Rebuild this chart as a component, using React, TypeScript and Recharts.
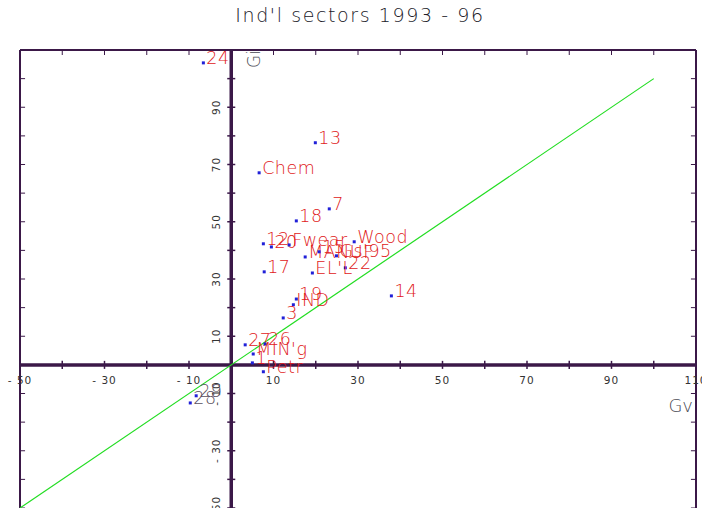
import { ReferenceDot, ReferenceLine, Scatter, ScatterChart, XAxis, YAxis } from "recharts";

// sector growth: Gv (x) against Gi (y), 1993-96
const sectorNames = [
  "24", "13", "Chem", "7", "18", "12", "20", "Fwear", "Wood", "MANUF", "15", "Gs'95", "22",
  "EL'L", "17", "14", "19", "IND", "3", "27", "26", "MIN'g", "1", "Petr", "29", "28",
];
const gvValues = [
  -6.6, 19.9, 6.6, 23.2, 15.4, 7.6, 9.5, 13.7, 29.1, 17.5, 20.8, 24.9, 27.0,
  19.2, 7.8, 37.9, 15.4, 14.7, 12.3, 3.3, 8.0, 5.2, 5.0, 7.6, -8.3, -9.7,
];
const giValues = [
  105.5, 77.6, 67.1, 54.5, 50.3, 42.3, 41.2, 41.9, 43.0, 37.7, 39.5, 38.1, 33.9,
  32.1, 32.5, 24.1, 23.0, 21.0, 16.4, 7.0, 7.3, 3.8, 0.7, -2.4, -10.8, -13.3,
];
const greySectors = ["28", "29"];

const axisMin = -50;
const axisMax = 110;
const tickSteps = [-50, -40, -30, -20, -10, 0, 10, 20, 30, 40, 50, 60, 70, 80, 90, 100, 110];
const xTickLabels = [-50, -30, -10, 10, 30, 50, 70, 90, 110];
const yTickLabels = [-50, -30, -10, 10, 30, 50, 70, 90];
const diagonal = [-50, 100];

const points = sectorNames.map((name, i) => ({ name, gv: gvValues[i], gi: giValues[i] }));

const AXIS = "#3b1848";
const FONT = "'DejaVu Sans', sans-serif";

function SectorMark(props: any) {
  const { cx, cy, payload } = props;
  if (cx == null || cy == null) return null;
  const grey = greySectors.includes(payload.name);
  return (
    <g>
      <rect x={cx - 1.5} y={cy - 1.5} width={3} height={3} fill="#2020d8" />
      <text
        x={cx + 3}
        y={cy + 1}
        fontFamily={FONT}
        fontWeight={200}
        fontSize={17.5}
        letterSpacing={0.5}
        fill={grey ? "#5a5060" : "#e01818"}
      >
        {payload.name}
      </text>
    </g>
  );
}

export default function App() {
  return (
    <div style={{ position: "absolute", left: 0, top: 0, width: 702, height: 508, background: "#fff" }}>
      <svg width={702} height={30} style={{ position: "absolute", left: 0, top: 0 }}>
        <text
          x={360}
          y={22}
          textAnchor="middle"
          fontFamily={FONT}
          fontWeight={200}
          fontSize={19}
          fill="#202028"
          letterSpacing={1.6}
        >
          Ind'l sectors 1993 - 96
        </text>
      </svg>
      <ScatterChart width={702} height={508} margin={{ top: 50, right: 6, bottom: 0, left: 20 }}>
        <XAxis type="number" dataKey="gv" domain={[axisMin, axisMax]} allowDataOverflow hide />
        <YAxis type="number" dataKey="gi" domain={[axisMin, axisMax]} allowDataOverflow hide />

        {/* frame */}
        <ReferenceLine y={axisMax} stroke={AXIS} strokeWidth={2} ifOverflow="visible" />
        <ReferenceLine x={axisMin} stroke={AXIS} strokeWidth={2} ifOverflow="visible" />
        <ReferenceLine x={axisMax} stroke={AXIS} strokeWidth={2} ifOverflow="visible" />
        {tickSteps.map((t) => (
          <ReferenceLine
            key={`ft${t}`}
            segment={[{ x: t, y: axisMax }, { x: t, y: axisMax - 1.75 }]}
            stroke={AXIS}
            strokeWidth={1}
            ifOverflow="visible"
          />
        ))}
        {tickSteps.map((t) => (
          <ReferenceLine
            key={`fl${t}`}
            segment={[{ x: axisMin, y: t }, { x: axisMin + 1.2, y: t }]}
            stroke={AXIS}
            strokeWidth={1}
            ifOverflow="visible"
          />
        ))}
        {tickSteps.map((t) => (
          <ReferenceLine
            key={`fr${t}`}
            segment={[{ x: axisMax, y: t }, { x: axisMax - 1.2, y: t }]}
            stroke={AXIS}
            strokeWidth={1}
            ifOverflow="visible"
          />
        ))}

        {/* axes through the origin */}
        <ReferenceLine y={0} stroke={AXIS} strokeWidth={3.5} ifOverflow="visible" />
        <ReferenceLine x={0} stroke={AXIS} strokeWidth={3.5} ifOverflow="visible" />
        {tickSteps.map((t) => (
          <ReferenceLine
            key={`xt${t}`}
            segment={[{ x: t, y: -1.4 }, { x: t, y: 1.4 }]}
            stroke={AXIS}
            strokeWidth={1.5}
            ifOverflow="visible"
          />
        ))}
        {tickSteps.map((t) => (
          <ReferenceLine
            key={`yt${t}`}
            segment={[{ x: -0.95, y: t }, { x: 0.95, y: t }]}
            stroke={AXIS}
            strokeWidth={1.5}
            ifOverflow="visible"
          />
        ))}
        {xTickLabels.map((t) => (
          <ReferenceDot
            key={`xl${t}`}
            x={t}
            y={0}
            r={1}
            ifOverflow="visible"
            shape={(p: any) => (
              <text x={p.cx} y={p.cy + 19} textAnchor="middle" fontFamily={FONT} fontSize={10.5} fill="#333" letterSpacing={1}>
                {t < 0 ? `- ${Math.abs(t)}` : t}
              </text>
            )}
          />
        ))}
        {yTickLabels.map((t) => (
          <ReferenceDot
            key={`yl${t}`}
            x={0}
            y={t}
            r={1}
            ifOverflow="visible"
            shape={(p: any) => (
              <text
                x={p.cx - 11}
                y={p.cy}
                textAnchor="middle"
                fontFamily={FONT}
                fontSize={10.5}
                fill="#333"
                letterSpacing={1}
                transform={`rotate(-90, ${p.cx - 11}, ${p.cy})`}
              >
                {t < 0 ? `- ${Math.abs(t)}` : t}
              </text>
            )}
          />
        ))}

        {/* axis titles */}
        <ReferenceDot
          x={axisMax}
          y={0}
          r={1}
          ifOverflow="visible"
          shape={(p: any) => (
            <text x={p.cx - 3} y={p.cy + 47} textAnchor="end" fontFamily={FONT} fontWeight={200} fontSize={18} fill="#4a4a54">
              Gv
            </text>
          )}
        />
        <ReferenceDot
          x={0}
          y={axisMax}
          r={1}
          ifOverflow="visible"
          shape={(p: any) => (
            <text
              x={p.cx + 29}
              y={p.cy + 9}
              textAnchor="middle"
              fontFamily={FONT}
              fontWeight={200}
              fontSize={17}
              fill="#4a4a54"
              transform={`rotate(-90, ${p.cx + 29}, ${p.cy + 9})`}
            >
              Gi
            </text>
          )}
        />

        {/* 45-degree line Gi = Gv */}
        <ReferenceLine
          segment={[{ x: diagonal[0], y: diagonal[0] }, { x: diagonal[1], y: diagonal[1] }]}
          stroke="#22dd22"
          strokeWidth={1.2}
          ifOverflow="visible"
        />

        <Scatter data={points} shape={<SectorMark />} isAnimationActive={false} />
      </ScatterChart>
    </div>
  );
}
